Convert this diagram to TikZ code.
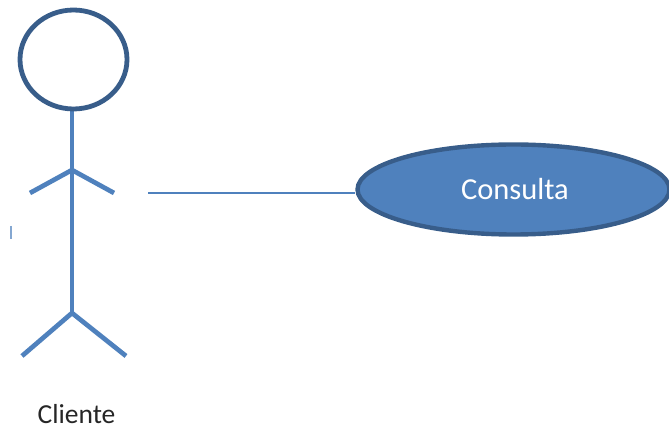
\documentclass[tikz,border=0pt]{standalone}
\usepackage{fontspec}
\setmainfont{Carlito}
\usetikzlibrary{shapes.geometric}
\definecolor{fillblue}{HTML}{4F81BD}
\definecolor{darkblue}{HTML}{385D8A}
\tikzset{
  limb/.style={draw=fillblue,line width=4.7pt,line cap=butt},
  headshape/.style={ellipse,draw=darkblue,line width=4.8pt,fill=white,inner sep=0pt,minimum width=107pt,minimum height=99pt},
  usecase/.style={ellipse,draw=darkblue,line width=4.4pt,fill=fillblue,inner sep=0pt,minimum width=312pt,minimum height=90pt},
  usecasetext/.style={text=white,font=\fontsize{30.5pt}{34pt}\selectfont,inner sep=0pt,anchor=base},
  assoc/.style={draw=fillblue,line width=1.6pt},
  caption/.style={text=black!85,font=\fontsize{27.5pt}{30pt}\selectfont,inner sep=0pt,anchor=base},
  tick/.style={draw=fillblue!70,line width=1.2pt}
}
\begin{document}
\begin{tikzpicture}[x=1pt,y=-1pt]
\useasboundingbox (0,0) rectangle (669,427);
\coordinate (shoulder) at (72,170);
\coordinate (handL) at (30,193);
\coordinate (handR) at (114,193);
\coordinate (hip) at (72,313);
\coordinate (footL) at (22,356);
\coordinate (footR) at (126,356);
\coordinate (assocStart) at (148,193);
\coordinate (tickA) at (11,226);
\coordinate (tickB) at (11,239);
\node[usecase] (consulta) at (513.5,189.5) {};
\node[usecasetext] (consultaText) at (515,200) {Consulta};
\draw[limb] (72,106) -- (hip);
\draw[limb] (handL) -- (shoulder) -- (handR);
\draw[limb] (footL) -- (hip) -- (footR);
\node[headshape] (head) at (73.5,59.5) {};
\draw[assoc] (assocStart) -- (assocStart -| consulta.west);
\draw[tick] (tickA) -- (tickB);
\node[caption] (cliente) at (76.5,423) {Cliente};
\end{tikzpicture}
\end{document}
